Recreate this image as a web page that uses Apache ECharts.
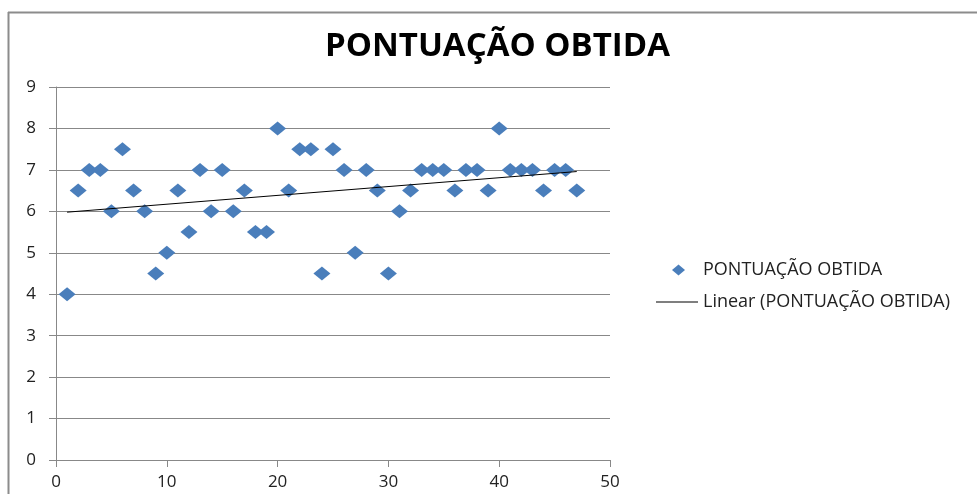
<!DOCTYPE html>
<html>
<head>
<meta charset="utf-8">
<script src="https://cdn.jsdelivr.net/npm/echarts@6/dist/echarts.min.js"></script>
<style>
  html, body { margin: 0; padding: 0; background: #fff; }
  #chart { width: 977px; height: 494px; }
</style>
</head>
<body>
<div id="chart"></div>
<script>
// notas por aluno (x = número do aluno)
const alunos = [1, 2, 3, 4, 5, 6, 7, 8, 9, 10, 11, 12, 13, 14, 15, 16, 17, 18, 19, 20,
  21, 22, 23, 24, 25, 26, 27, 28, 29, 30, 31, 32, 33, 34, 35, 36, 37, 38, 39, 40,
  41, 42, 43, 44, 45, 46, 47];
const pontuacao = [4, 6.5, 7, 7, 6, 7.5, 6.5, 6, 4.5, 5, 6.5, 5.5, 7, 6, 7, 6, 6.5, 5.5, 5.5, 8,
  6.5, 7.5, 7.5, 4.5, 7.5, 7, 5, 7, 6.5, 4.5, 6, 6.5, 7, 7, 7, 6.5, 7, 7, 6.5, 8,
  7, 7, 7, 6.5, 7, 7, 6.5];
// linha de tendência (início e fim)
const tendenciaX = [1, 47];
const tendenciaY = [5.98, 6.96];

const nomeSerie = 'PONTUAÇÃO OBTIDA';
const nomeLinear = 'Linear (PONTUAÇÃO OBTIDA)';
const fonte = 'Open Sans, sans-serif';

const chart = echarts.init(document.getElementById('chart'));

chart.setOption({
  animation: false,
  title: {
    text: 'PONTUAÇÃO OBTIDA',
    left: 320,
    top: 25,
    textStyle: { fontFamily: fonte, fontSize: 33, fontWeight: 'bold', color: '#000' }
  },
  legend: [
    {
      data: [nomeSerie],
      icon: 'diamond',
      itemWidth: 13,
      itemHeight: 11,
      itemGap: 0,
      left: 667,
      top: 256,
      itemStyle: { opacity: 1 },
      textStyle: { fontFamily: fonte, fontSize: 18, color: '#222', padding: [0, 0, 0, 13] }
    },
    {
      data: [nomeLinear],
      icon: 'rect',
      itemWidth: 42,
      itemHeight: 1,
      left: 651,
      top: 288,
      textStyle: { fontFamily: fonte, fontSize: 18, color: '#222', padding: [0, 0, 0, 0] }
    }
  ],
  graphic: [
    { type: 'line', shape: { x1: 8, y1: 12.5, x2: 977, y2: 12.5 }, style: { stroke: '#8c8c8c', lineWidth: 2 } },
    { type: 'line', shape: { x1: 8.5, y1: 12, x2: 8.5, y2: 494 }, style: { stroke: '#8c8c8c', lineWidth: 2 } }
  ],
  grid: { left: 56, right: 367, top: 87, bottom: 34 },
  xAxis: {
    type: 'value',
    min: 0,
    max: 50,
    interval: 10,
    axisLine: { show: true, lineStyle: { color: '#888' } },
    axisTick: { show: true, length: 7, lineStyle: { color: '#888' } },
    splitLine: { show: false },
    axisLabel: { fontFamily: fonte, fontSize: 17, color: '#222', margin: 14 }
  },
  yAxis: {
    type: 'value',
    min: 0,
    max: 9,
    interval: 1,
    axisLine: { show: true, lineStyle: { color: '#888' } },
    axisTick: { show: true, length: 7, lineStyle: { color: '#888' } },
    splitLine: { show: true, lineStyle: { color: '#888' } },
    axisLabel: { fontFamily: fonte, fontSize: 17, color: '#222', margin: 20 }
  },
  series: [
    {
      name: nomeSerie,
      type: 'scatter',
      symbol: 'diamond',
      symbolSize: [17, 14],
      itemStyle: { color: '#4a7ebb', opacity: 1 },
      data: alunos.map((x, i) => [x, pontuacao[i]])
    },
    {
      name: nomeLinear,
      type: 'line',
      showSymbol: false,
      symbol: 'none',
      lineStyle: { color: '#000', width: 1 },
      itemStyle: { color: '#000' },
      data: tendenciaX.map((x, i) => [x, tendenciaY[i]])
    }
  ]
});
</script>
</body>
</html>
